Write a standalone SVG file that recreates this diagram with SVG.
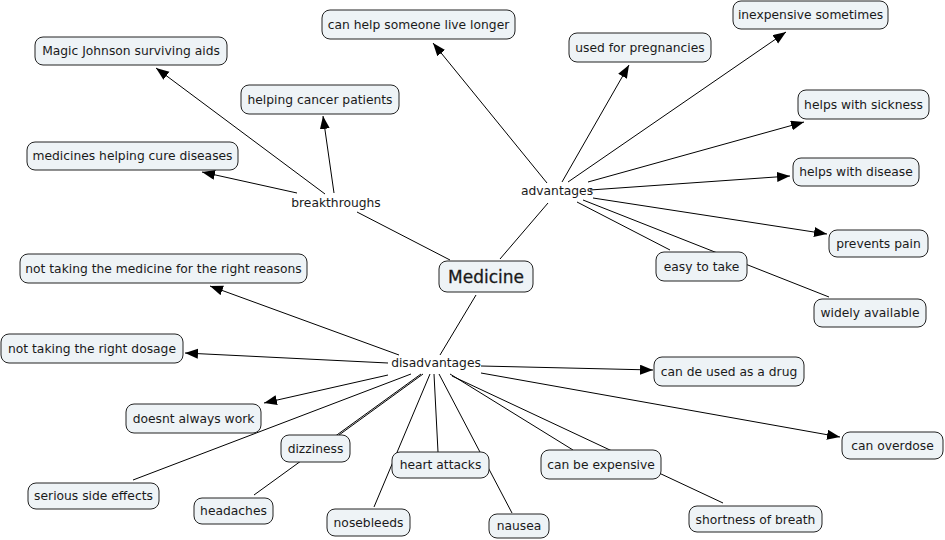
<svg xmlns="http://www.w3.org/2000/svg" width="945" height="540" viewBox="0 0 945 540">
<defs>
<marker id="arr" markerUnits="userSpaceOnUse" markerWidth="14" markerHeight="12" refX="13" refY="5" orient="auto">
<path d="M0,0 L13,5 L0,10 Z" fill="#000"/>
</marker>
<style>
.n rect{fill:#eef3f6;stroke:#222;stroke-width:1;}
.n text, .lp{font-family:"DejaVu Sans",Verdana,sans-serif;font-size:12.3px;fill:#1a1a1a;text-anchor:middle;}
.c line{stroke:#000;stroke-width:1;}
.c line.a{marker-end:url(#arr);}
</style>
</defs>
<rect width="945" height="540" fill="#fff"/>
<g id="connectors" class="c">
<line x1="450" y1="260" x2="357" y2="212"/>
<line x1="500" y1="259" x2="548" y2="203"/>
<line x1="476" y1="295" x2="440" y2="355"/>
<line class="a" x1="325" y1="194" x2="156" y2="68"/>
<line class="a" x1="334" y1="193" x2="323" y2="116"/>
<line class="a" x1="297" y1="193" x2="202" y2="172"/>
<line class="a" x1="547" y1="183" x2="433" y2="43"/>
<line class="a" x1="562" y1="182" x2="629" y2="65"/>
<line class="a" x1="568" y1="182" x2="786" y2="32"/>
<line class="a" x1="588" y1="182" x2="804" y2="122"/>
<line class="a" x1="590" y1="190" x2="790" y2="176"/>
<line class="a" x1="593" y1="198" x2="827" y2="234"/>
<line x1="577" y1="202" x2="670" y2="250"/>
<line x1="583" y1="200" x2="829" y2="297"/>
<line class="a" x1="399" y1="355" x2="210" y2="286"/>
<line class="a" x1="388" y1="363" x2="185" y2="353"/>
<line class="a" x1="388" y1="375" x2="264" y2="403"/>
<line x1="411" y1="374" x2="133" y2="480"/>
<line x1="423" y1="374" x2="339" y2="435"/>
<line x1="421" y1="374" x2="254" y2="495"/>
<line x1="430" y1="374" x2="374" y2="507"/>
<line x1="434" y1="374" x2="438" y2="452"/>
<line x1="439" y1="374" x2="512" y2="513"/>
<line x1="450" y1="374" x2="573" y2="450"/>
<line x1="452" y1="376" x2="723" y2="503"/>
<line class="a" x1="481" y1="366" x2="653" y2="370"/>
<line class="a" x1="481" y1="373" x2="840" y2="437"/>
</g>
<text class="lp" x="336" y="207">breakthroughs</text>
<text class="lp" x="557" y="195">advantages</text>
<text class="lp" x="436" y="367">disadvantages</text>
<g id="medicine" class="n"><rect x="439" y="261" width="94" height="31" rx="8"/><text x="486" y="283" style="font-size:17px;stroke:#1a1a1a;stroke-width:0.3">Medicine</text></g>
<g id="live-longer" class="n"><rect x="322" y="10" width="193" height="29" rx="8"/><text x="418.5" y="29">can help someone live longer</text></g>
<g id="magic" class="n"><rect x="35" y="37" width="192" height="28" rx="8"/><text x="131" y="55">Magic Johnson surviving aids</text></g>
<g id="cancer" class="n"><rect x="241" y="85" width="158" height="29" rx="8"/><text x="320" y="104">helping cancer patients</text></g>
<g id="cure" class="n"><rect x="27" y="142" width="211" height="28" rx="8"/><text x="132.5" y="160">medicines helping cure diseases</text></g>
<g id="inexpensive" class="n"><rect x="733" y="1" width="155" height="28" rx="8"/><text x="810.5" y="19">inexpensive sometimes</text></g>
<g id="pregnancies" class="n"><rect x="569" y="33" width="142" height="29" rx="8"/><text x="640" y="52">used for pregnancies</text></g>
<g id="sickness" class="n"><rect x="798" y="90" width="131" height="29" rx="8"/><text x="863.5" y="109">helps with sickness</text></g>
<g id="disease" class="n"><rect x="793" y="158" width="126" height="28" rx="8"/><text x="856" y="176">helps with disease</text></g>
<g id="pain" class="n"><rect x="829" y="230" width="99" height="27" rx="8"/><text x="878.5" y="248">prevents pain</text></g>
<g id="easy" class="n"><rect x="656" y="252" width="91" height="29" rx="8"/><text x="701.5" y="271">easy to take</text></g>
<g id="widely" class="n"><rect x="814" y="299" width="112" height="28" rx="8"/><text x="870" y="317">widely available</text></g>
<g id="drug" class="n"><rect x="654" y="357" width="150" height="29" rx="8"/><text x="729" y="376">can de used as a drug</text></g>
<g id="overdose" class="n"><rect x="842" y="432" width="101" height="27" rx="8"/><text x="892.5" y="450">can overdose</text></g>
<g id="expensive" class="n"><rect x="541" y="450" width="120" height="29" rx="8"/><text x="601" y="469">can be expensive</text></g>
<g id="breath" class="n"><rect x="689" y="506" width="133" height="26" rx="8"/><text x="755.5" y="524">shortness of breath</text></g>
<g id="nausea" class="n"><rect x="489" y="514" width="60" height="24" rx="8"/><text x="519" y="530">nausea</text></g>
<g id="heart" class="n"><rect x="392" y="452" width="97" height="26" rx="8"/><text x="440.5" y="469">heart attacks</text></g>
<g id="nosebleeds" class="n"><rect x="327" y="509" width="83" height="27" rx="8"/><text x="368.5" y="527">nosebleeds</text></g>
<g id="headaches" class="n"><rect x="194" y="498" width="79" height="26" rx="8"/><text x="233.5" y="515">headaches</text></g>
<g id="dizziness" class="n"><rect x="281" y="435" width="69" height="27" rx="8"/><text x="315.5" y="453">dizziness</text></g>
<g id="side-effects" class="n"><rect x="28" y="483" width="131" height="26" rx="8"/><text x="93.5" y="500">serious side effects</text></g>
<g id="doesnt" class="n"><rect x="126" y="404" width="135" height="29" rx="8"/><text x="193.5" y="423">doesnt always work</text></g>
<g id="dosage" class="n"><rect x="1" y="334" width="182" height="29" rx="8"/><text x="92" y="353">not taking the right dosage</text></g>
<g id="reasons" class="n"><rect x="20" y="254" width="287" height="29" rx="8"/><text x="163.5" y="273">not taking the medicine for the right reasons</text></g>
</svg>
